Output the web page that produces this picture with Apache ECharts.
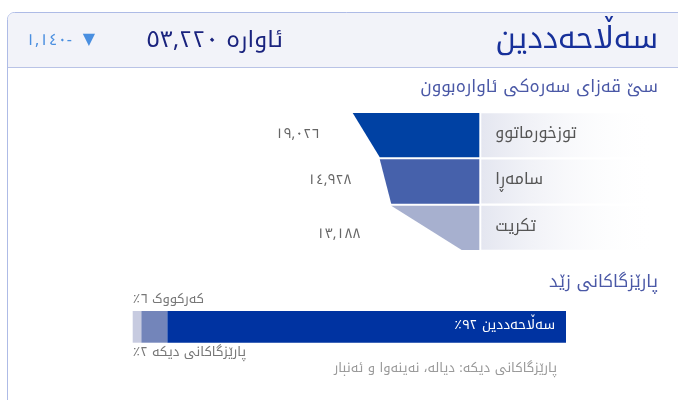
<!DOCTYPE html>
<html>
<head>
<meta charset="utf-8">
<script src="https://cdn.jsdelivr.net/npm/echarts@6/dist/echarts.min.js"></script>
<style>html,body{margin:0;padding:0;background:#fff}#c{width:678px;height:400px}</style>
</head>
<body>
<div id="c"></div>
<script>
// ---- data ----
const titleText = 'سەڵاحەددین';
const totalText = 'ئاوارە ٥٣,٢٢٠';
const changeText = '-١,١٤٠';
const changeArrow = '▼';
const funnelTitle = 'سێ قەزای سەرەکی ئاوارەبوون';
const districts = ['توزخورماتوو', 'سامەڕا', 'تکریت'];
const districtValues = [19026, 14928, 13188];
const districtLabels = ['١٩,٠٢٦', '١٤,٩٢٨', '١٣,١٨٨'];
const shareTitle = 'پارێزگاکانی زێد';
const shareNames = ['پارێزگاکانی دیکە', 'کەرکووک', 'سەڵاحەددین'];
const shareValues = [2, 6, 92];
const shareLabels = ['پارێزگاکانی دیکە ٢٪', 'کەرکووک ٦٪', 'سەڵاحەددین ٩٢٪'];
const footnote = 'پارێزگاکانی دیکە: دیالە، نەینەوا و ئەنبار';

// ---- styles ----
const FONT = '"Noto Kufi Arabic", "Noto Sans Arabic", "DejaVu Sans", sans-serif';
const rtl = s => '\u200F' + s + '\u200F';
const funnelColors = ['#0041a3', '#4661ab', '#a7b0cf'];
const shareColors = ['#c7cbe0', '#7385ba', '#0033a1'];
const valueLabelGap = [42, 29, 61];
const valueLabelDy = [0, 0, 8];
const barLeft = 132.7, barWidth = 433.3;

const chart = echarts.init(document.getElementById('c'), null, {renderer: 'canvas'});

const funnelCommon = {
  type: 'funnel', left: 340, top: 113, width: 139.3, height: 137,
  funnelAlign: 'right', sort: 'none', gap: 2,
  min: 2511, max: 19026, minSize: 17.6, maxSize: 126.6,
  silent: true, animation: false, emphasis: {disabled: true}
};

const option = {
  animation: false,
  graphic: [
    {type: 'rect', z: -10, shape: {x: 7.5, y: 12.5, width: 720, height: 420, r: 7}, style: {fill: '#ffffff', stroke: '#aebbe6', lineWidth: 1}},
    {type: 'rect', z: -9, shape: {x: 8, y: 13, width: 720, height: 54.5, r: [6, 0, 0, 0]}, style: {fill: '#f2f3f9'}},
    {type: 'line', z: -8, shape: {x1: 8, y1: 67.5, x2: 678, y2: 67.5}, style: {stroke: '#b9c3e6', lineWidth: 1}},
    {type: 'text', x: 658, y: 43, style: {text: rtl(titleText), fill: '#17309a', fontSize: 30, fontFamily: FONT, align: 'right', verticalAlign: 'middle'}},
    {type: 'text', x: 283, y: 43, style: {text: rtl(totalText), fill: '#1a237e', fontSize: 23, fontFamily: FONT, align: 'right', verticalAlign: 'middle'}},
    {type: 'text', x: 95, y: 41.5, style: {text: changeArrow, fill: '#4a8fe0', fontSize: 16, fontFamily: FONT, align: 'right', verticalAlign: 'middle'}},
    {type: 'text', x: 72, y: 42, style: {text: rtl(changeText), fill: '#4a8fe0', fontSize: 16, fontFamily: FONT, align: 'right', verticalAlign: 'middle'}},
    {type: 'text', x: 658, y: 89, style: {text: rtl(funnelTitle), fill: '#4a58a6', fontSize: 17, fontFamily: FONT, align: 'right', verticalAlign: 'middle'}},
    {type: 'text', x: 658, y: 284, style: {text: rtl(shareTitle), fill: '#4a58a6', fontSize: 17, fontFamily: FONT, align: 'right', verticalAlign: 'middle'}},
    {type: 'text', x: 557, y: 370, style: {text: rtl(footnote), fill: '#9a9a9a', fontSize: 13, fontFamily: FONT, align: 'right', verticalAlign: 'middle'}}
  ],
  grid: {left: barLeft, top: 311, width: barWidth, height: 31.7},
  xAxis: {type: 'value', min: 0, max: 100, show: false},
  yAxis: {type: 'category', data: ['share'], show: false},
  series: [
    Object.assign({}, funnelCommon, {
      name: 'districts',
      z: 3,
      itemStyle: {borderWidth: 0},
      label: {
        show: true, position: 'right', formatter: p => rtl(p.name), color: '#555', fontSize: 16, fontFamily: FONT,
        width: 162, lineHeight: 44, padding: [0, 0, 0, 14],
        backgroundColor: new echarts.graphic.LinearGradient(0, 0, 1, 0, [
          {offset: 0, color: '#e4e6f0'}, {offset: 1, color: 'rgba(255,255,255,0)'}
        ])
      },
      labelLine: {show: false, length: -3},
      data: districts.map((n, i) => ({name: n, value: districtValues[i], itemStyle: {color: funnelColors[i]}}))
    }),
    Object.assign({}, funnelCommon, {
      name: 'values',
      z: 2,
      itemStyle: {color: 'rgba(0,0,0,0)', borderWidth: 0},
      label: {show: true, position: 'left', color: '#666', fontSize: 14, fontFamily: FONT,
        formatter: p => districtLabels[p.dataIndex]},
      labelLine: {show: false},
      labelLayout: p => ({dy: valueLabelDy[p.dataIndex]}),
      data: districts.map((n, i) => ({
        name: n, value: districtValues[i],
        labelLine: {show: false, length: valueLabelGap[i]}
      }))
    })
  ].concat(shareNames.map((n, i) => {
    let label;
    if (i === 0) {
      label = {show: true, position: [0, 43], align: 'left', verticalAlign: 'middle', color: '#777', fontSize: 13, fontFamily: FONT, formatter: rtl(shareLabels[i])};
    } else if (i === 1) {
      label = {show: true, position: [-(shareValues[0] / 100) * barWidth, -10], align: 'left', verticalAlign: 'middle', color: '#777', fontSize: 13, fontFamily: FONT, formatter: rtl(shareLabels[i])};
    } else {
      label = {show: true, position: 'insideRight', distance: 11, color: '#ffffff', fontSize: 13.5, fontFamily: FONT, formatter: rtl(shareLabels[i])};
    }
    return {type: 'bar', name: n, stack: 'share', data: [shareValues[i]], barWidth: '100%',
      itemStyle: {color: shareColors[i]}, label: label, silent: true};
  }))
};
chart.setOption(option);
</script>
</body>
</html>
